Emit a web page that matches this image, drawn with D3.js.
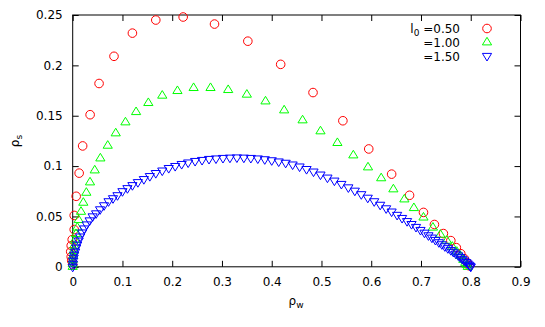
<!DOCTYPE html>
<html>
<head>
<meta charset="utf-8">
<script src="https://cdn.jsdelivr.net/npm/d3@7"></script>
<style>
  body { margin: 0; background: #fff; }
  text { font-family: "DejaVu Sans", sans-serif; font-size: 12px; fill: #000; }
</style>
</head>
<body>
<div id="chart"></div>
<script>
// tick values and labels
var xTicks = [0, 0.1, 0.2, 0.3, 0.4, 0.5, 0.6, 0.7, 0.8, 0.9];
var xTickLabels = ['0', '0.1', '0.2', '0.3', '0.4', '0.5', '0.6', '0.7', '0.8', '0.9'];
var yTicks = [0, 0.05, 0.1, 0.15, 0.2, 0.25];
var yTickLabels = ['0', '0.05', '0.1', '0.15', '0.2', '0.25'];

// legend entries
var seriesNames = ['0.50', '1.00', '1.50'];

// l0 = 0.50  (rho_w, rho_s)
var serA = [
  [0.000, 0.002], [-0.002, 0.006], [-0.003, 0.010], [-0.004, 0.015], [-0.003, 0.021],
  [-0.001, 0.027], [0.003, 0.037], [0.003, 0.051], [0.007, 0.070], [0.013, 0.093],
  [0.020, 0.120], [0.035, 0.151], [0.053, 0.182], [0.083, 0.209], [0.120, 0.232],
  [0.167, 0.245], [0.222, 0.248], [0.285, 0.241], [0.352, 0.224], [0.418, 0.201],
  [0.483, 0.173], [0.543, 0.145], [0.595, 0.117], [0.641, 0.092], [0.677, 0.071],
  [0.705, 0.054], [0.727, 0.042], [0.745, 0.033], [0.760, 0.026], [0.771, 0.019],
  [0.780, 0.013], [0.787, 0.008], [0.793, 0.004], [0.797, 0.001]
];

// l0 = 1.00
var serB = [
  [0.000, 0.000], [0.000, 0.003], [0.0005, 0.007], [0.001, 0.011], [0.002, 0.016],
  [0.003, 0.021], [0.0046, 0.0266], [0.0066, 0.0326], [0.0093, 0.039], [0.012, 0.0465],
  [0.0167, 0.0547], [0.0213, 0.0637], [0.0274, 0.0736], [0.0348, 0.0839], [0.0443, 0.0958],
  [0.0556, 0.1077], [0.0704, 0.1203], [0.0865, 0.1326], [0.106, 0.1435], [0.1274, 0.1537],
  [0.152, 0.1627], [0.180, 0.170], [0.2105, 0.1746], [0.243, 0.1776], [0.277, 0.1776],
  [0.3125, 0.1756], [0.350, 0.171], [0.3875, 0.1643], [0.425, 0.1554], [0.462, 0.1455],
  [0.498, 0.1346], [0.532, 0.123], [0.564, 0.1107], [0.5935, 0.0988], [0.620, 0.088],
  [0.6445, 0.077], [0.6666, 0.067], [0.6857, 0.0584], [0.705, 0.049], [0.724, 0.039],
  [0.739, 0.032], [0.752, 0.026], [0.763, 0.020], [0.772, 0.015], [0.779, 0.011],
  [0.785, 0.007], [0.789, 0.004], [0.792, 0.002], [0.794, 0.000]
];

// l0 = 1.50
var serC = [
  [0.000, 0.000], [0.0005, 0.003], [0.001, 0.006], [0.002, 0.009], [0.003, 0.012],
  [0.005, 0.015], [0.007, 0.019], [0.009, 0.022], [0.012, 0.026], [0.015, 0.030],
  [0.019, 0.034], [0.023, 0.038], [0.028, 0.042], [0.034, 0.046], [0.040, 0.050],
  [0.047, 0.053], [0.055, 0.057], [0.063, 0.061], [0.072, 0.065], [0.081, 0.068],
  [0.090, 0.071], [0.100, 0.075], [0.110, 0.078], [0.120, 0.081], [0.131, 0.084],
  [0.143, 0.087], [0.155, 0.090], [0.167, 0.093], [0.180, 0.0955], [0.193, 0.098],
  [0.206, 0.100], [0.219, 0.102], [0.232, 0.1035], [0.246, 0.105], [0.260, 0.106],
  [0.274, 0.107], [0.288, 0.1075], [0.302, 0.108], [0.316, 0.1083], [0.330, 0.1085],
  [0.344, 0.1083], [0.358, 0.108], [0.372, 0.1075], [0.386, 0.1067], [0.400, 0.1057],
  [0.414, 0.1045], [0.428, 0.1032], [0.442, 0.1015], [0.456, 0.0995], [0.470, 0.097],
  [0.484, 0.0945], [0.498, 0.0915], [0.512, 0.0885], [0.526, 0.0855], [0.540, 0.0822],
  [0.554, 0.0788], [0.567, 0.0755], [0.580, 0.072], [0.593, 0.0685], [0.606, 0.065],
  [0.618, 0.0615], [0.630, 0.058], [0.641, 0.0548], [0.652, 0.0515], [0.662, 0.0484],
  [0.672, 0.0453], [0.681, 0.0424], [0.690, 0.0395], [0.699, 0.0365], [0.707, 0.0338],
  [0.715, 0.0312], [0.722, 0.0289], [0.729, 0.0266], [0.736, 0.0243], [0.742, 0.0223],
  [0.748, 0.0203], [0.754, 0.0184], [0.760, 0.0165], [0.765, 0.0148], [0.770, 0.0130],
  [0.775, 0.0112], [0.779, 0.0095], [0.783, 0.0078], [0.787, 0.0062], [0.791, 0.0046],
  [0.794, 0.0032], [0.797, 0.0019], [0.799, 0.0008], [0.800, 0.0000]
];

var width = 545, height = 327;
var plot = { left: 72.7, right: 520.5, top: 15, bottom: 266.8 };

var svg = d3.select('#chart').append('svg')
    .attr('width', width)
    .attr('height', height);

var x = d3.scaleLinear().domain([0, 0.9]).range([plot.left, plot.right]);
var y = d3.scaleLinear().domain([0, 0.25]).range([plot.bottom, plot.top]);

// ticks point inward, mirrored on top and right
function styleAxis(g) {
    g.select('.domain').remove();
    g.selectAll('.tick line').attr('stroke', '#000');
    g.selectAll('.tick text').style('font-family', '"DejaVu Sans", sans-serif').style('font-size', '12px');
}

svg.append('g')
    .attr('transform', 'translate(0,' + plot.bottom + ')')
    .call(d3.axisBottom(x).tickValues(xTicks).tickSize(-6).tickPadding(11)
        .tickFormat(function(d, i) { return xTickLabels[i]; }))
    .call(styleAxis);

svg.append('g')
    .attr('transform', 'translate(0,' + plot.top + ')')
    .call(d3.axisTop(x).tickValues(xTicks).tickSize(-6).tickFormat(''))
    .call(styleAxis);

svg.append('g')
    .attr('transform', 'translate(' + plot.left + ',0)')
    .call(d3.axisLeft(y).tickValues(yTicks).tickSize(-6).tickPadding(10)
        .tickFormat(function(d, i) { return yTickLabels[i]; }))
    .call(styleAxis);

svg.append('g')
    .attr('transform', 'translate(' + plot.right + ',0)')
    .call(d3.axisRight(y).tickValues(yTicks).tickSize(-6).tickFormat(''))
    .call(styleAxis);

svg.append('rect')
    .attr('x', plot.left)
    .attr('y', plot.top)
    .attr('width', plot.right - plot.left)
    .attr('height', plot.bottom - plot.top)
    .attr('fill', 'none')
    .attr('stroke', '#000')
    .attr('stroke-width', 1);

// point shapes
var triUp = 'M0,-5L4.6,2.6L-4.6,2.6Z';
var triDown = 'M0,5L4.6,-2.6L-4.6,-2.6Z';

function drawCircles(data, color) {
    svg.append('g').selectAll('circle')
        .data(data)
        .enter().append('circle')
        .attr('cx', function(d) { return x(d[0]); })
        .attr('cy', function(d) { return y(d[1]); })
        .attr('r', 4.3)
        .attr('fill', 'none')
        .attr('stroke', color)
        .attr('stroke-width', 1);
}

function drawShapes(data, shape, color) {
    svg.append('g').selectAll('path')
        .data(data)
        .enter().append('path')
        .attr('d', shape)
        .attr('transform', function(d) { return 'translate(' + x(d[0]) + ',' + y(d[1]) + ')'; })
        .attr('fill', 'none')
        .attr('stroke', color)
        .attr('stroke-width', 1);
}

drawCircles(serA, '#ff0000');
drawShapes(serB, triUp, '#00ff00');
drawShapes(serC, triDown, '#0000ff');

// legend
var legendRows = [28.5, 42.3, 56];
var legendText = svg.append('g');
var first = legendText.append('text')
    .attr('x', 460)
    .attr('y', legendRows[0] + 4.5)
    .attr('text-anchor', 'end');
first.append('tspan').text('l');
first.append('tspan').attr('dy', 3).style('font-size', '9px').text('0');
first.append('tspan').attr('dy', -3).text(' =' + seriesNames[0]);

legendText.append('text')
    .attr('x', 460)
    .attr('y', legendRows[1] + 4.5)
    .attr('text-anchor', 'end')
    .text('=' + seriesNames[1]);
legendText.append('text')
    .attr('x', 460)
    .attr('y', legendRows[2] + 4.5)
    .attr('text-anchor', 'end')
    .text('=' + seriesNames[2]);

svg.append('circle')
    .attr('cx', 487).attr('cy', legendRows[0]).attr('r', 4.3)
    .attr('fill', 'none').attr('stroke', '#ff0000');
svg.append('path')
    .attr('d', triUp).attr('transform', 'translate(487,' + legendRows[1] + ')')
    .attr('fill', 'none').attr('stroke', '#00ff00');
svg.append('path')
    .attr('d', triDown).attr('transform', 'translate(487,' + legendRows[2] + ')')
    .attr('fill', 'none').attr('stroke', '#0000ff');

// axis titles
var xl = svg.append('text')
    .attr('x', 296)
    .attr('y', 305)
    .attr('text-anchor', 'middle');
xl.append('tspan').text('\u03c1');
xl.append('tspan').attr('dy', 3).style('font-size', '9px').text('w');

var yl = svg.append('text')
    .attr('transform', 'translate(19,141) rotate(-90)')
    .attr('text-anchor', 'middle');
yl.append('tspan').text('\u03c1');
yl.append('tspan').attr('dy', 3).style('font-size', '9px').text('s');
</script>
</body>
</html>
